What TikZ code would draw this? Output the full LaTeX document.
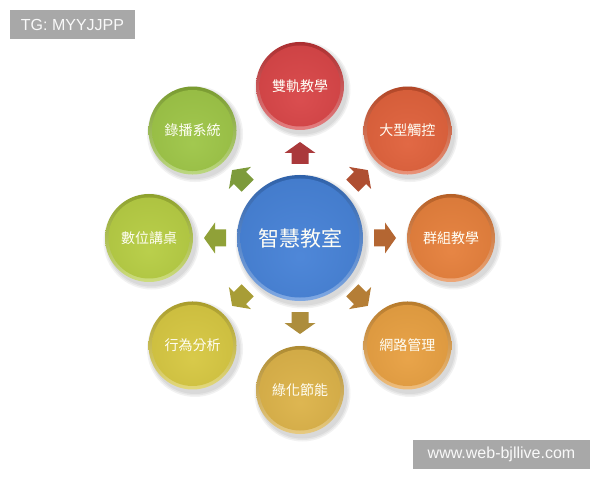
\documentclass[tikz,border=0pt]{standalone}
\usepackage{fontspec}
\setmainfont{Liberation Sans}
\newfontfamily\cjk{Noto Sans CJK TC}
\usetikzlibrary{calc}
\definecolor{cRed}{HTML}{D63A3C}
\definecolor{cOrR}{HTML}{DE5830}
\definecolor{cOra}{HTML}{E47830}
\definecolor{cAmb}{HTML}{E69A36}
\definecolor{cGold}{HTML}{DAAE3E}
\definecolor{cYel}{HTML}{D4C436}
\definecolor{cYG}{HTML}{B2CA38}
\definecolor{cGrn}{HTML}{98C23C}
\definecolor{cBlue}{HTML}{3B7AD4}
\definecolor{wmgray}{HTML}{A8A8A8}
\colorlet{ic}{white}\colorlet{oc}{black}
\pgfdeclareradialshading[ic,oc]{discshade}{\pgfpoint{0bp}{-8bp}}{color(0bp)=(ic); color(32bp)=(ic!55!oc); color(50bp)=(oc)}
\newcommand\myball[6]{% name, position, radius, color, text, fontsize
  \begin{scope}[shift={(#2)}]
    \foreach \s in {4,2.5,1} \fill[black,opacity=0.05] (2.5,-3.5) circle ({#3+\s});
    \shade[top color=#4!80!black, bottom color=#4!65!white] (0,0) circle (#3);
    \colorlet{ic}{#4!90!white}\colorlet{oc}{#4!88!black}
    \shade[shading=discshade] (0,0) circle ({#3-3.5});
    \node[balltext, minimum size={2*#3}, font=\cjk\fontsize{#6}{#6}\selectfont] (#1) at (0,0) {#5};
  \end{scope}}
\tikzset{
  balltext/.style={circle, inner sep=0pt, text=white!96!yellow},
  blockarrow/.pic={\fill[pic actions] (-11,-8.5) -- (0,-8.5) -- (0,-15.5) -- (11,0) -- (0,15.5) -- (0,8.5) -- (-11,8.5) -- cycle;},
  wm/.style={fill=wmgray, text=white!95!gray, inner sep=0pt, font=\fontsize{16}{16}\selectfont}
}
\begin{document}
\begin{tikzpicture}[x=1pt,y=1pt]
\useasboundingbox (0,0) rectangle (600,480);
\fill[white] (0,0) rectangle (600,480);
\coordinate (C) at (300,242);
% arrows
\foreach \ang/\col in {90/cRed,45/cOrR,0/cOra,-45/cAmb,-90/cGold,-135/cYel,180/cYG,135/cGrn}{
  \pic[rotate=\ang, fill=\col!82!black!88!gray] at ($(C)+(\ang:85)$) {blockarrow};
}
% outer balls
\myball{b1}{$(C)+(90:152)$}{44}{cRed}{雙軌教學}{14}
\myball{b2}{$(C)+(45:152)$}{44}{cOrR}{大型觸控}{14}
\myball{b3}{$(C)+(0:151)$}{44}{cOra}{群組教學}{14}
\myball{b4}{$(C)+(-45:152)$}{44}{cAmb}{網路管理}{14}
\myball{b5}{$(C)+(-90:152)$}{44}{cGold}{綠化節能}{14}
\myball{b6}{$(C)+(-135:152)$}{44}{cYel}{行為分析}{14}
\myball{b7}{$(C)+(180:151)$}{44}{cYG}{數位講桌}{14}
\myball{b8}{$(C)+(135:152)$}{44}{cGrn}{錄播系統}{14}
% center
\myball{center}{C}{63}{cBlue}{智慧教室}{21}
% watermarks
\node[wm, minimum width=125pt, minimum height=29pt] (tg) at (72.5,455.5) {TG: MYYJJPP};
\node[wm, minimum width=177pt, minimum height=29pt] (web) at (501.5,25.5) {www.web-bjllive.com};
\end{tikzpicture}
\end{document}
